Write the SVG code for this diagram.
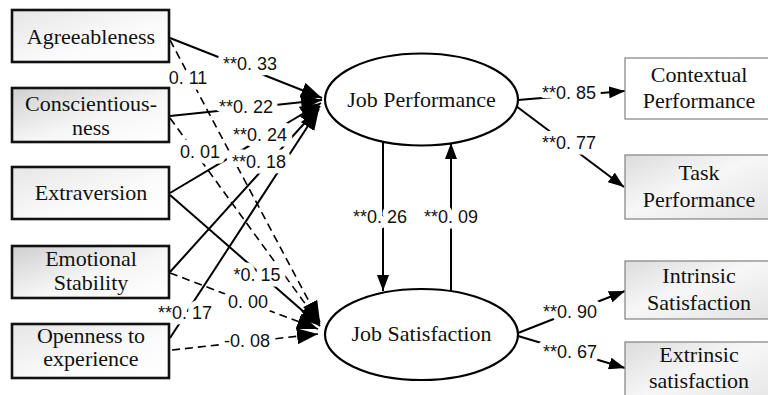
<svg xmlns="http://www.w3.org/2000/svg" width="768" height="395" viewBox="0 0 768 395">
  <defs>
    <linearGradient id="gLeft" x1="0" y1="0" x2="1" y2="1">
      <stop offset="0" stop-color="#cfcfcf"/>
      <stop offset="0.55" stop-color="#f6f6f6"/>
      <stop offset="1" stop-color="#ffffff"/>
    </linearGradient>
    <linearGradient id="gLight" x1="0" y1="0" x2="1" y2="1">
      <stop offset="0" stop-color="#e6e6e6"/>
      <stop offset="0.6" stop-color="#fbfbfb"/>
      <stop offset="1" stop-color="#ffffff"/>
    </linearGradient>
    <linearGradient id="gRight" x1="0" y1="0" x2="1" y2="1">
      <stop offset="0" stop-color="#dcdcdc"/>
      <stop offset="0.45" stop-color="#f7f7f7"/>
      <stop offset="1" stop-color="#e2e2e2"/>
    </linearGradient>
    <marker id="arrow" markerUnits="userSpaceOnUse" markerWidth="22" markerHeight="16" refX="21" refY="8" orient="auto">
      <path d="M0,0 L21,8 L0,16 z" fill="#000"/>
    </marker>
    <marker id="arrowS" markerUnits="userSpaceOnUse" markerWidth="16" markerHeight="12" refX="16" refY="6" orient="auto">
      <path d="M0,0 L16,6 L0,12 z" fill="#000"/>
    </marker>
  </defs>
  <style>
    .lbox { stroke: #111; stroke-width: 2.6; }
    .rbox { stroke: #8a8a8a; stroke-width: 1.3; }
    .ell { fill: #fff; stroke: #000; stroke-width: 2.2; }
    .serif { font-family: "Liberation Serif", "Times New Roman", serif; font-size: 22px; fill: #111; text-anchor: middle; }
    .num { font-family: "Liberation Sans", Arial, sans-serif; font-size: 18px; fill: #111; text-anchor: middle;
           stroke: #fff; stroke-width: 11; stroke-linejoin: round; paint-order: stroke; }
    .solid { fill: none; stroke: #000; stroke-width: 2; marker-end: url(#arrow); }
    .dash { fill: none; stroke: #000; stroke-width: 1.6; stroke-dasharray: 8 5; marker-end: url(#arrow); }
    .out { fill: none; stroke: #000; stroke-width: 2; marker-end: url(#arrowS); }
  </style>

  <rect width="768" height="395" fill="#fff"/>

  <!-- connectors -->
  <g id="connectors">
    <!-- personality traits to job performance -->
    <path class="solid" d="M170,38 L322,98"/>
    <path class="solid" d="M170,116 L322,100"/>
    <path class="solid" d="M170,193 L321,103"/>
    <path class="solid" d="M170,272 L320,106"/>
    <path class="solid" d="M170,338 L319,109"/>
    <!-- personality traits to job satisfaction -->
    <path class="dash" d="M170,40 L320,322"/>
    <path class="dash" d="M170,118 L320,324"/>
    <path class="solid" d="M170,195 L320,326"/>
    <path class="dash" d="M170,273 L318,329"/>
    <path class="dash" d="M172,350 L318,334"/>
    <!-- reciprocal paths -->
    <path class="out" d="M383,142 L383,291"/>
    <path class="out" d="M451,291 L451,143"/>
    <!-- measurement paths -->
    <path class="out" d="M518,100 L625,91"/>
    <path class="out" d="M516,106 L624,187"/>
    <path class="out" d="M518,333 L625,291"/>
    <path class="out" d="M518,336 L625,368"/>

    <!-- coefficients -->
    <text class="num" x="250" y="70">**0. 33</text>
    <text class="num" x="188" y="84">0. 11</text>
    <text class="num" x="246" y="113">**0. 22</text>
    <text class="num" x="200" y="158">0. 01</text>
    <text class="num" x="260" y="141">**0. 24</text>
    <text class="num" x="259" y="168">**0. 18</text>
    <text class="num" x="257" y="281">*0. 15</text>
    <text class="num" x="248" y="308">0. 00</text>
    <text class="num" x="185" y="319">**0. 17</text>
    <text class="num" x="247" y="347">-0. 08</text>
    <text class="num" x="380" y="223">**0. 26</text>
    <text class="num" x="451" y="223">**0. 09</text>
    <text class="num" x="569" y="99">**0. 85</text>
    <text class="num" x="569" y="149">**0. 77</text>
    <text class="num" x="570" y="318">**0. 90</text>
    <text class="num" x="570" y="358">**0. 67</text>
  </g>

  <!-- personality traits -->
  <g id="agreeableness">
    <rect class="lbox" x="12" y="10" width="157" height="52" fill="url(#gLight)"/>
    <text class="serif" x="91" y="44">Agreeableness</text>
  </g>
  <g id="conscientiousness">
    <rect class="lbox" x="12" y="88" width="157" height="54" fill="url(#gLeft)"/>
    <text class="serif" x="91" y="111">Conscientious-</text>
    <text class="serif" x="91" y="135">ness</text>
  </g>
  <g id="extraversion">
    <rect class="lbox" x="12" y="167" width="157" height="52" fill="url(#gLight)"/>
    <text class="serif" x="91" y="200">Extraversion</text>
  </g>
  <g id="emotional-stability">
    <rect class="lbox" x="12" y="246" width="157" height="52" fill="url(#gLeft)"/>
    <text class="serif" x="91" y="266">Emotional</text>
    <text class="serif" x="91" y="290">Stability</text>
  </g>
  <g id="openness">
    <rect class="lbox" x="12" y="324" width="157" height="54" fill="url(#gLight)"/>
    <text class="serif" x="91" y="343">Openness to</text>
    <text class="serif" x="91" y="366">experience</text>
  </g>

  <!-- latent variables -->
  <g id="job-performance">
    <ellipse class="ell" cx="421.5" cy="99.5" rx="96.5" ry="46"/>
    <text class="serif" x="421.5" y="107">Job Performance</text>
  </g>
  <g id="job-satisfaction">
    <ellipse class="ell" cx="421.5" cy="334.5" rx="96.5" ry="45.5"/>
    <text class="serif" x="421.5" y="341">Job Satisfaction</text>
  </g>

  <!-- indicators -->
  <g id="contextual-performance">
    <rect class="rbox" x="625" y="58" width="150" height="61" fill="#fff"/>
    <text class="serif" x="699" y="82">Contextual</text>
    <text class="serif" x="699" y="108">Performance</text>
  </g>
  <g id="task-performance">
    <rect class="rbox" x="625" y="155" width="150" height="64" fill="url(#gRight)"/>
    <text class="serif" x="699" y="180">Task</text>
    <text class="serif" x="699" y="207">Performance</text>
  </g>
  <g id="intrinsic-satisfaction">
    <rect class="rbox" x="625" y="261" width="150" height="58" fill="url(#gRight)"/>
    <text class="serif" x="699" y="283">Intrinsic</text>
    <text class="serif" x="699" y="310">Satisfaction</text>
  </g>
  <g id="extrinsic-satisfaction">
    <rect class="rbox" x="625" y="342" width="150" height="70" fill="url(#gRight)"/>
    <text class="serif" x="699" y="362">Extrinsic</text>
    <text class="serif" x="699" y="388">satisfaction</text>
  </g>
</svg>
